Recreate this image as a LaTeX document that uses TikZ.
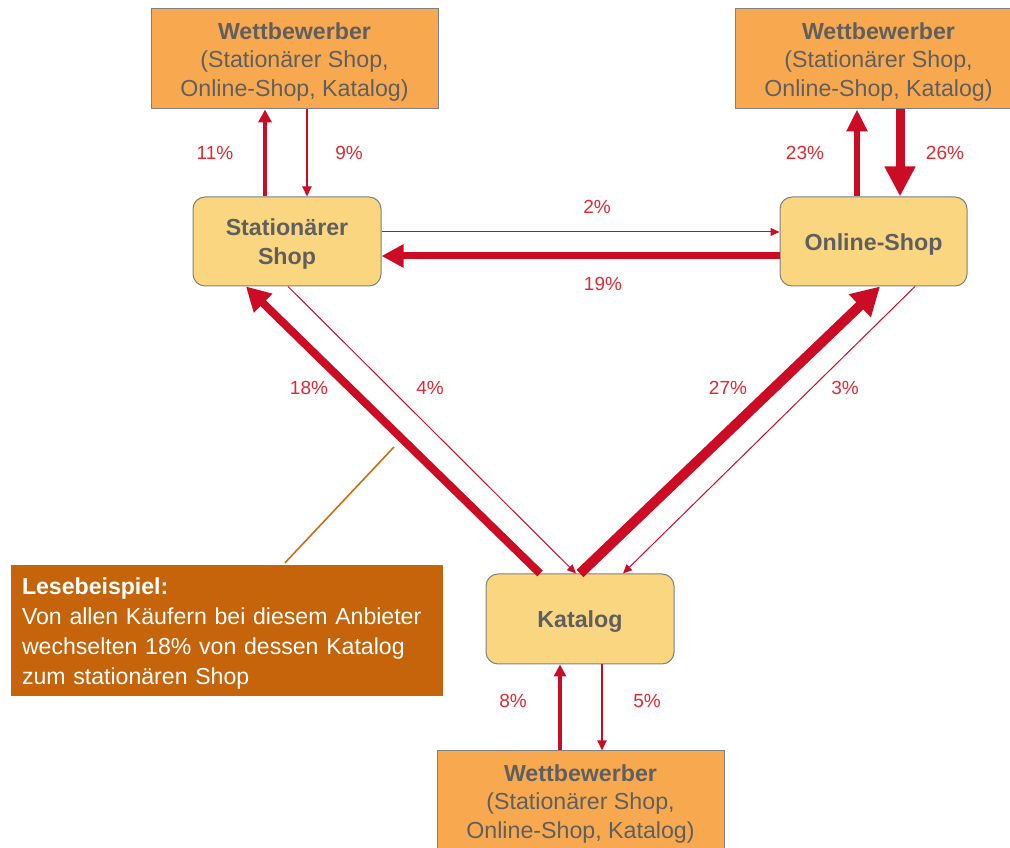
\documentclass[tikz,border=0pt]{standalone}
\usepackage{fontspec}
\setmainfont{Liberation Sans}
\usetikzlibrary{arrows.meta,calc}
\definecolor{arrowred}{RGB}{204,12,36}
\definecolor{labelred}{RGB}{222,42,52}
\definecolor{wfill}{RGB}{248,169,80}
\definecolor{chfill}{RGB}{249,214,127}
\definecolor{boxborder}{RGB}{128,128,128}
\definecolor{textgray}{RGB}{95,95,95}
\definecolor{legfill}{RGB}{197,100,10}
\definecolor{leadcol}{RGB}{205,110,20}
\newcommand\mystrut{\rule{0pt}{22.5pt}}
\begin{document}
\begin{tikzpicture}[x=1pt,y=1pt,
  wbox/.style={draw=boxborder, line width=1pt, fill=wfill, minimum width=287pt, minimum height=100pt,
    align=center, text=textgray, inner sep=0pt, font=\fontsize{23.2}{28.6}\selectfont},
  chan/.style={draw=boxborder, line width=1pt, fill=chfill, rounded corners=12pt, minimum width=188pt,
    minimum height=89pt, align=center, text=textgray, inner sep=0pt, font=\bfseries\fontsize{23.2}{29}\selectfont},
  pct/.style={text=labelred, inner sep=0pt, font=\fontsize{19}{19}\selectfont},
  flow/.style={draw=arrowred, line width=#1},
  tip/.style n args={2}{-{Triangle[length=#1pt,width=#2pt]}}
]
\useasboundingbox (0,0) rectangle (1010,848);
\clip (0,0) rectangle (1010,848);

% competitor boxes
\node[wbox] (w1) at (294.5,789) {\mystrut\textbf{Wettbewerber}\\(Stationärer Shop,\\Online-Shop, Katalog)};
\node[wbox] (w2) at (878.5,789) {\mystrut\textbf{Wettbewerber}\\(Stationärer Shop,\\Online-Shop, Katalog)};
\node[wbox] (w3) at (580.5,47) {\mystrut\textbf{Wettbewerber}\\(Stationärer Shop,\\Online-Shop, Katalog)};

% channel boxes
\node[chan] (st) at (287,606.5) {\mystrut Stationärer\\Shop};
\node[chan, minimum width=187pt] (on) at (873.5,606.5) {\mystrut Online-Shop};
\node[chan, minimum height=90pt] (kat) at (580,229) {\mystrut Katalog};

% legend
\node[fill=legfill, minimum width=432pt, minimum height=131pt, text width=410pt, inner xsep=11pt,
  align=left, text=white, font=\fontsize{23.1}{30}\selectfont] (leg) at (227,217.5)
  {\mystrut\textbf{Lesebeispiel:}\\Von allen Käufern bei diesem Anbieter\\wechselten 18\% von dessen Katalog\\zum stationären Shop};
\coordinate (lead) at (394,401);
\draw[leadcol, line width=1.6pt] ([xshift=58pt,yshift=2pt]leg.north) -- (lead);

% Stationär <-> Wettbewerber
\draw[flow=4pt, tip={13}{13}] ([xshift=-22pt]st.north) -- ([xshift=-22pt]st.north |- w1.south);
\draw[flow=2pt, tip={10}{9}] ([xshift=20pt]st.north |- w1.south) -- ([xshift=20pt]st.north);

% Online <-> Wettbewerber
\draw[flow=5.5pt, tip={22}{20}] ([xshift=-16.5pt]on.north) -- ([xshift=-16.5pt]on.north |- w2.south);
\draw[flow=9pt, tip={30}{29}] ([xshift=26.5pt]on.north |- w2.south) -- ([xshift=26.5pt]on.north);

% Stationär <-> Online
\draw[flow=1pt, tip={9}{8}] ([yshift=9.5pt]st.east) -- ([yshift=9.5pt]st.east -| on.west);
\draw[flow=7pt, tip={22}{22}] ([yshift=-14.5pt]on.west) -- ([yshift=-14.5pt]on.west -| st.east);

% Katalog <-> Stationär
\draw[flow=8pt, tip={24}{25}] ([xshift=-40pt]kat.north) -- ([xshift=-41pt]st.south);
\draw[flow=1pt, tip={9}{8}] ([xshift=1pt]st.south) -- ([xshift=-4pt]kat.north);

% Katalog <-> Online
\draw[flow=10pt, tip={28}{30}] ([xshift=0pt]kat.north) -- ([xshift=6.5pt]on.south);
\draw[flow=1pt, tip={9}{8}] ([xshift=41.5pt]on.south) -- ([xshift=43pt]kat.north);

% Katalog <-> Wettbewerber
\draw[flow=4pt, tip={12}{12}] ([xshift=-20pt]kat.south |- w3.north) -- ([xshift=-20pt]kat.south);
\draw[flow=2pt, tip={10}{9}] ([xshift=22pt]kat.south) -- ([xshift=22pt]kat.south |- w3.north);

% percentages
\node[pct] (p11) at (215,695) {11\%};
\node[pct] (p9) at (349,695) {9\%};
\node[pct] (p23) at (805,695) {23\%};
\node[pct] (p26) at (945,695) {26\%};
\node[pct] (p2) at (597,641) {2\%};
\node[pct] (p19) at (603,564) {19\%};
\node[pct] (p18) at (309,460) {18\%};
\node[pct] (p4) at (430,460) {4\%};
\node[pct] (p27) at (728,460) {27\%};
\node[pct] (p3) at (845,460) {3\%};
\node[pct] (p8) at (513,147) {8\%};
\node[pct] (p5) at (647,147) {5\%};
\end{tikzpicture}
\end{document}
